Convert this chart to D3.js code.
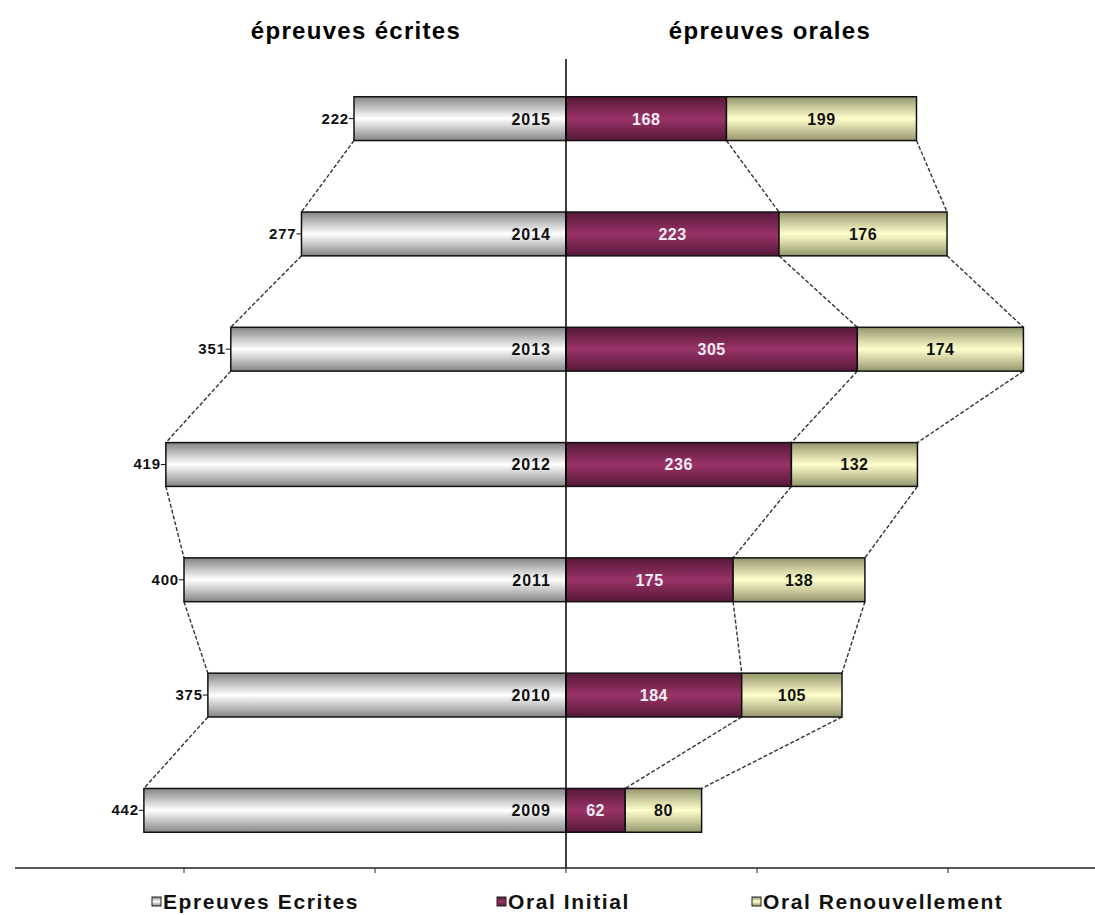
<!DOCTYPE html>
<html>
<head>
<meta charset="utf-8">
<script src="https://cdn.jsdelivr.net/npm/d3@7"></script>
<style>
body{margin:0;background:#fff;}
text{font-family:"Liberation Sans Narrow","Arial Narrow","Liberation Sans",Arial,sans-serif;font-weight:bold;}
</style>
</head>
<body>
<div id="chart"></div>
<script>
const years = ["2015","2014","2013","2012","2011","2010","2009"];
const ecrites = [222,277,351,419,400,375,442];
const oralInitial = [168,223,305,236,175,184,62];
const oralRenouv = [199,176,174,132,138,105,80];
const ticks = [-400,-200,0,200,400];
const legendLabels = ["Epreuves Ecrites","Oral Initial","Oral Renouvellement"];

const width = 1095, height = 915;
const svg = d3.select("#chart").append("svg")
    .attr("width", width).attr("height", height);

const x = d3.scaleLinear().domain([-400, 400]).range([184, 948]);
const y = d3.scaleBand().domain(years).range([61, 868]).paddingInner(0.62).paddingOuter(0.31);
const bh = y.bandwidth();

// gradients
const defs = svg.append("defs");
function grad(id, edge, mid){
    const g = defs.append("linearGradient").attr("id", id)
        .attr("x1",0).attr("y1",0).attr("x2",0).attr("y2",1);
    g.append("stop").attr("offset","0%").attr("stop-color", edge);
    g.append("stop").attr("offset","50%").attr("stop-color", mid);
    g.append("stop").attr("offset","100%").attr("stop-color", edge);
}
grad("gEcr", "#858585", "#ffffff");
grad("gIni", "#561839", "#993366");
grad("gRen", "#96966e", "#ffffcc");

// titles
svg.append("text").attr("x", 356).attr("y", 39).attr("text-anchor","middle")
    .style("font-size","24px").style("letter-spacing","1.3px").text("épreuves écrites");
svg.append("text").attr("x", 770).attr("y", 39).attr("text-anchor","middle")
    .style("font-size","24px").style("letter-spacing","1.3px").text("épreuves orales");

// connectors
const conn = svg.append("g").attr("stroke","#333").attr("stroke-dasharray","4,2").attr("stroke-width",1.4);
for (let i = 0; i < years.length - 1; i++) {
    const y0 = y(years[i]) + bh, y1 = y(years[i+1]);
    conn.append("line").attr("x1", x(-ecrites[i])).attr("y1", y0).attr("x2", x(-ecrites[i+1])).attr("y2", y1);
    conn.append("line").attr("x1", x(oralInitial[i])).attr("y1", y0).attr("x2", x(oralInitial[i+1])).attr("y2", y1);
    conn.append("line").attr("x1", x(oralInitial[i]+oralRenouv[i])).attr("y1", y0)
        .attr("x2", x(oralInitial[i+1]+oralRenouv[i+1])).attr("y2", y1);
}

const rows = svg.append("g").selectAll("g").data(years).enter().append("g")
    .attr("transform", d => "translate(0," + y(d) + ")");

rows.append("rect")
    .attr("x", (d,i) => x(-ecrites[i])).attr("y", 0)
    .attr("width", (d,i) => x(0) - x(-ecrites[i])).attr("height", bh)
    .attr("fill","url(#gEcr)").attr("stroke","#111").attr("stroke-width",1.5);
rows.append("rect")
    .attr("x", x(0)).attr("y", 0)
    .attr("width", (d,i) => x(oralInitial[i]) - x(0)).attr("height", bh)
    .attr("fill","url(#gIni)").attr("stroke","#111").attr("stroke-width",1.5);
rows.append("rect")
    .attr("x", (d,i) => x(oralInitial[i])).attr("y", 0)
    .attr("width", (d,i) => x(oralInitial[i]+oralRenouv[i]) - x(oralInitial[i])).attr("height", bh)
    .attr("fill","url(#gRen)").attr("stroke","#111").attr("stroke-width",1.5);

// year labels
rows.append("text").attr("x", x(0) - 15).attr("y", bh/2 + 6).attr("text-anchor","end")
    .style("font-size","16px").style("letter-spacing","1px").attr("fill","#111").text(d => d);
// value labels
rows.append("text").attr("x", (d,i) => x(-ecrites[i]) - 5).attr("y", bh/2 + 5).attr("text-anchor","end")
    .style("font-size","15px").style("letter-spacing","0.8px").attr("fill","#111").text((d,i) => ecrites[i]);
rows.append("line").attr("x1", (d,i) => x(-ecrites[i]) - 5).attr("x2", (d,i) => x(-ecrites[i]))
    .attr("y1", bh/2).attr("y2", bh/2).attr("stroke","#111");
rows.append("text").attr("x", (d,i) => (x(0) + x(oralInitial[i]))/2).attr("y", bh/2 + 6)
    .attr("text-anchor","middle").style("font-size","16px").style("letter-spacing","0.5px").attr("fill","#f4eef4")
    .text((d,i) => oralInitial[i]);
rows.append("text").attr("x", (d,i) => (x(oralInitial[i]) + x(oralInitial[i]+oralRenouv[i]))/2).attr("y", bh/2 + 6)
    .attr("text-anchor","middle").style("font-size","16px").style("letter-spacing","0.5px").attr("fill","#111")
    .text((d,i) => oralRenouv[i]);

// axes
svg.append("line").attr("x1", x(0)).attr("x2", x(0)).attr("y1", 59).attr("y2", 868)
    .attr("stroke","#000").attr("stroke-width",1.5);
svg.append("line").attr("x1", 15).attr("x2", 1095).attr("y1", 868).attr("y2", 868)
    .attr("stroke","#222").attr("stroke-width",1.5);
svg.append("g").selectAll("line").data(ticks).enter().append("line")
    .attr("x1", d => x(d)).attr("x2", d => x(d)).attr("y1", 868).attr("y2", 873)
    .attr("stroke","#222");

// legend
const legX = [152, 497, 752];
const legFill = ["url(#gEcr)","url(#gIni)","url(#gRen)"];
const leg = svg.append("g").selectAll("g").data(legendLabels).enter().append("g")
    .attr("transform", (d,i) => "translate(" + legX[i] + ",909)");
leg.append("rect").attr("x",0).attr("y",-12).attr("width",9).attr("height",9)
    .attr("fill",(d,i) => legFill[i]).attr("stroke","#222");
leg.append("text").attr("x",11).attr("y",0).style("font-size","21px").style("letter-spacing","1.6px")
    .attr("fill","#111").text(d => d);
</script>
</body>
</html>
